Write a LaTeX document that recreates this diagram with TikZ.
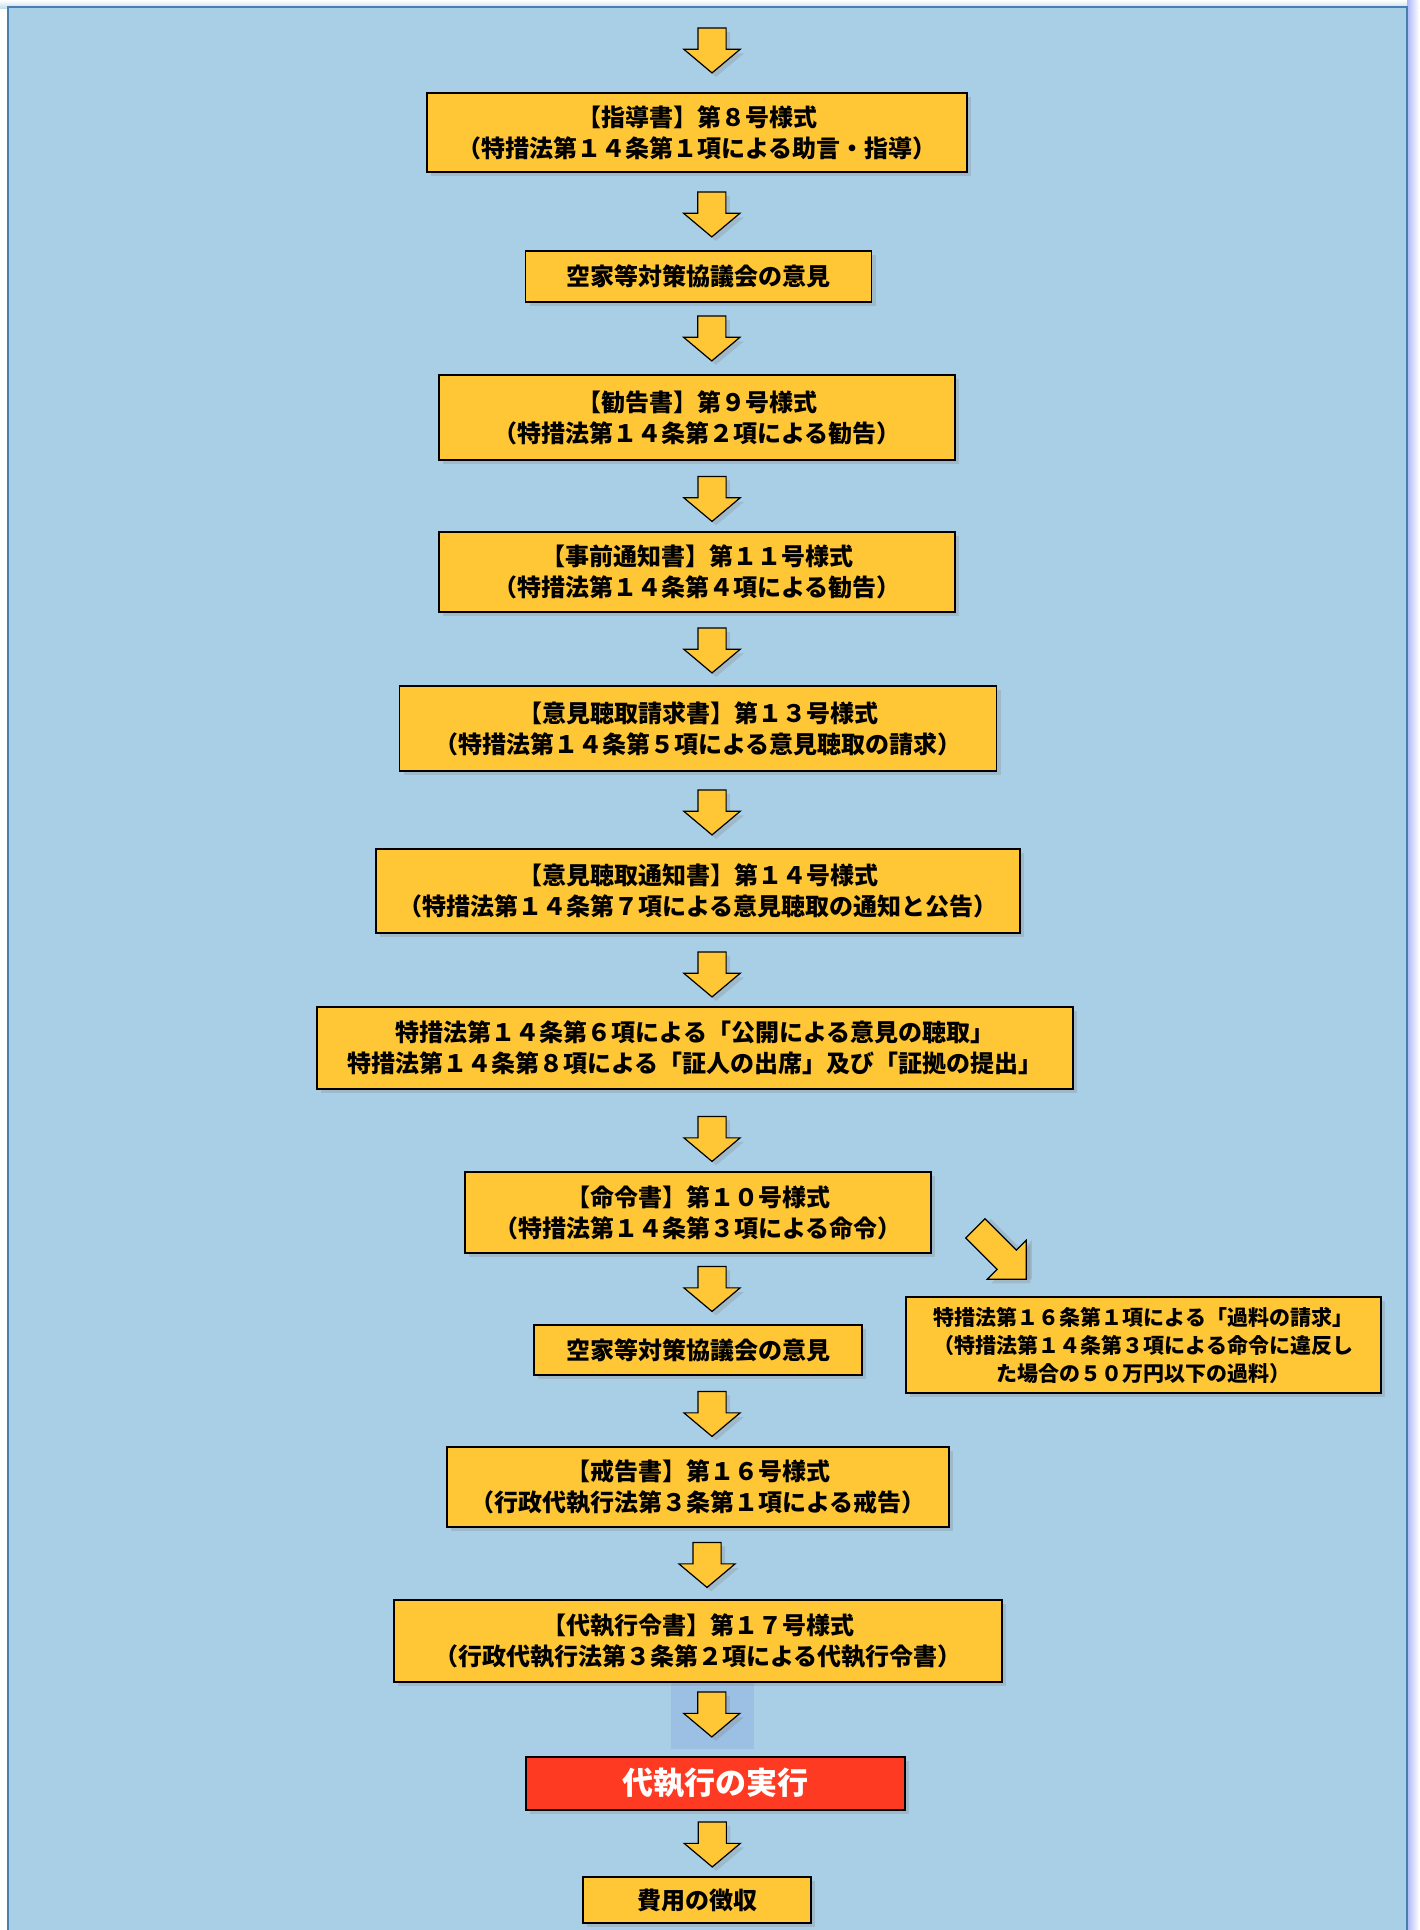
\documentclass[tikz,border=0pt]{standalone}
\usepackage{fontspec}
\usetikzlibrary{shapes.arrows,shadows,calc}
\newfontfamily\jpfont{Noto Sans CJK JP}
\definecolor{panelblue}{HTML}{A9CFE7}
\definecolor{paneledge}{HTML}{4A7EAD}
\definecolor{formyellow}{HTML}{FFC636}
\definecolor{execred}{HTML}{FF3A22}
\definecolor{hiliteblue}{HTML}{9CC0E3}

\tikzset{
  boxshadow/.style={drop shadow={shadow xshift=4pt, shadow yshift=-4pt, opacity=.28}},
  formbox/.style={draw=black, line width=1.6pt, fill=formyellow, inner sep=0pt,
    align=center, font=\jpfont\bfseries\fontsize{24}{31}\selectfont, boxshadow},
  % shaft width = 2 x inner sep across the arrow, head = shaft + 2 x head extend
  downarrow/.style={single arrow, draw=black, line width=1.2pt, fill=formyellow,
    inner xsep=13.5pt, inner ysep=0pt, minimum height=45pt,
    single arrow head extend=14pt, single arrow head indent=0pt,
    single arrow tip angle=100, shape border rotate=270, boxshadow},
}

\begin{document}
\begin{tikzpicture}[x=1pt, y=-1pt]
  \useasboundingbox (0,0) rectangle (1419,1930);

  % === Background panel ===
  \fill[white] (0,0) rectangle (1419,1930);
  \shade[top color=white, bottom color=panelblue!70] (0,0) rectangle (1419,8);
  \shade[left color=panelblue!60!blue!55, right color=white] (1407,0) rectangle (1419,1930);
  \fill[panelblue] (8,7) rectangle (1407,1940);
  \draw[paneledge, line width=2.5pt] (8,1940) -- (8,7) -- (1407,7) -- (1407,1940);

  % light patch behind the arrow above the red box
  \fill[hiliteblue] (671,1683) rectangle (754,1749);

  % === Flow boxes (centre, size taken from the form sheet) ===
  \node[formbox, minimum width=540pt, minimum height=79pt] (b1) at (697,132.5)
    {【指導書】第８号様式\\（特措法第１４条第１項による助言・指導）};
  \node[formbox, minimum width=346pt, minimum height=51pt] (b2) at (698.5,276.5)
    {空家等対策協議会の意見};
  \node[formbox, minimum width=516pt, minimum height=85pt] (b3) at (697,417.5)
    {【勧告書】第９号様式\\（特措法第１４条第２項による勧告）};
  \node[formbox, minimum width=516pt, minimum height=80pt] (b4) at (697,572)
    {【事前通知書】第１１号様式\\（特措法第１４条第４項による勧告）};
  \node[formbox, minimum width=597pt, minimum height=85pt] (b5) at (698,728.5)
    {【意見聴取請求書】第１３号様式\\（特措法第１４条第５項による意見聴取の請求）};
  \node[formbox, minimum width=644pt, minimum height=84pt] (b6) at (698,891)
    {【意見聴取通知書】第１４号様式\\（特措法第１４条第７項による意見聴取の通知と公告）};
  \node[formbox, minimum width=756pt, minimum height=82pt] (b7) at (695,1048)
    {特措法第１４条第６項による「公開による意見の聴取」\\特措法第１４条第８項による「証人の出席」及び「証拠の提出」};
  \node[formbox, minimum width=466pt, minimum height=81pt] (b8) at (698,1212.5)
    {【命令書】第１０号様式\\（特措法第１４条第３項による命令）};
  \node[formbox, minimum width=328pt, minimum height=50pt] (b9) at (698,1350)
    {空家等対策協議会の意見};
  \node[formbox, minimum width=502pt, minimum height=80pt] (b10) at (698,1487)
    {【戒告書】第１６号様式\\（行政代執行法第３条第１項による戒告）};
  \node[formbox, minimum width=608pt, minimum height=82pt] (b11) at (698,1641)
    {【代執行令書】第１７号様式\\（行政代執行法第３条第２項による代執行令書）};
  \node[formbox, fill=execred, text=white, minimum width=379pt, minimum height=53pt,
    font=\jpfont\bfseries\fontsize{31}{36}\selectfont] (exec) at (715.5,1783.5)
    {代執行の実行};
  \node[formbox, minimum width=228pt, minimum height=46pt] (b12) at (697,1900)
    {費用の徴収};

  % side branch: fine for breaking the order
  \node[formbox, minimum width=475pt, minimum height=96pt,
    font=\jpfont\bfseries\fontsize{21}{28}\selectfont] (fine) at (1143.5,1345)
    {特措法第１６条第１項による「過料の請求」\\（特措法第１４条第３項による命令に違反し\\た場合の５０万円以下の過料）};

  % === Block arrows ===
  \node[downarrow] (ar-top) at (712,44.5) {};
  \foreach \a/\b/\dx/\dy in {b1/b2/14/-3, b2/b3/14/-6, b3/b4/15/-3, b4/b5/14.5/-4.5,
      b5/b6/14/-3.5, b6/b7/15.5/-1.5, b7/b8/15.5/2.5, b8/b9/14/-6, b9/b10/14/-3,
      b10/b11/9/-4.5, b11/exec/5/-11, exec/b12/6/-5}
    \node[downarrow] (ar-\a) at ($(\a.south)!0.5!(\b.north) + (\dx,\dy)$) {};

  % diagonal arrow towards the fine box
  \node[downarrow, shape border rotate=0, rotate=-45, minimum height=72pt,
    inner xsep=0pt, inner ysep=13pt, single arrow tip angle=90,
    drop shadow={shadow xshift=5.6pt, shadow yshift=0pt, opacity=.28}] (ar-fine) at (996,1249) {};

\end{tikzpicture}
\end{document}
